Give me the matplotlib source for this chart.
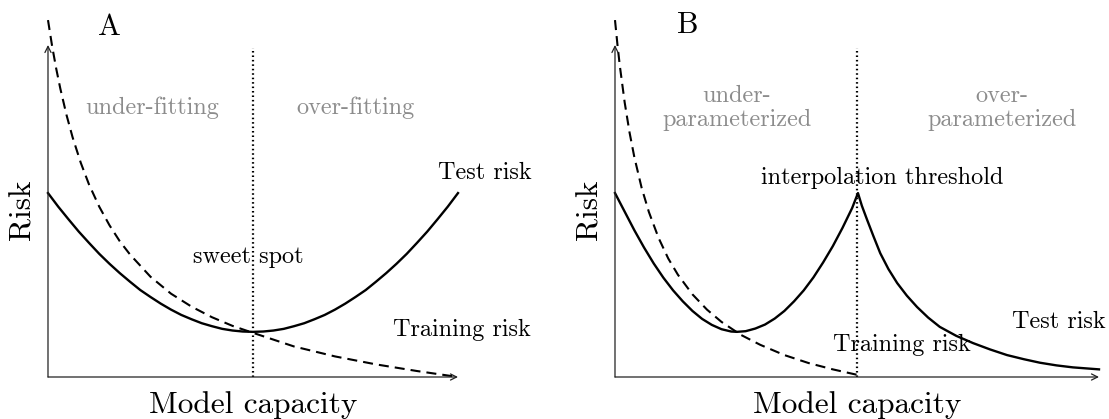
import matplotlib
matplotlib.use("Agg")
import matplotlib.pyplot as plt

# --- curve data (x = capacity, y = risk, both 0..1) ---
test_a_x = [0.0, 0.025, 0.05, 0.075, 0.10, 0.125, 0.15, 0.175, 0.20, 0.225, 0.25,
            0.275, 0.30, 0.325, 0.35, 0.375, 0.40, 0.425, 0.45, 0.475, 0.50,
            0.525, 0.55, 0.575, 0.60, 0.625, 0.65, 0.675, 0.70, 0.725, 0.75,
            0.775, 0.80, 0.825, 0.85, 0.875, 0.90, 0.925, 0.95, 0.975, 1.0]
test_a_y = [0.554, 0.513, 0.475, 0.438, 0.404, 0.371, 0.341, 0.313, 0.287, 0.262, 0.241,
            0.221, 0.203, 0.187, 0.174, 0.162, 0.153, 0.145, 0.140, 0.137, 0.136,
            0.137, 0.140, 0.145, 0.153, 0.162, 0.174, 0.187, 0.203, 0.221, 0.241,
            0.262, 0.287, 0.313, 0.341, 0.371, 0.404, 0.438, 0.475, 0.513, 0.554]

train_a_x = [0.0, 0.01, 0.02, 0.03, 0.045, 0.06, 0.08, 0.10, 0.125, 0.15, 0.175, 0.20,
             0.25, 0.30, 0.35, 0.40, 0.45, 0.50, 0.60, 0.70, 0.80, 0.90, 1.0]
train_a_y = [1.075, 0.997, 0.929, 0.869, 0.790, 0.722, 0.645, 0.580, 0.513, 0.457, 0.409, 0.369,
             0.302, 0.251, 0.212, 0.180, 0.154, 0.133, 0.092, 0.062, 0.038, 0.018, 0.0]

test_b_x = [0.0, 0.02, 0.04, 0.06, 0.08, 0.10, 0.12, 0.14, 0.16, 0.18, 0.20, 0.22, 0.24,
            0.252, 0.27, 0.29, 0.31, 0.33, 0.35, 0.37, 0.39, 0.41, 0.43, 0.45, 0.47, 0.49,
            0.502, 0.510, 0.521, 0.534, 0.548, 0.565, 0.583, 0.603, 0.624, 0.647, 0.671,
            0.705, 0.740, 0.775, 0.810, 0.845, 0.878, 0.912, 0.946, 0.973, 1.0]
test_b_y = [0.554, 0.498, 0.442, 0.390, 0.342, 0.299, 0.261, 0.228, 0.199, 0.175, 0.157, 0.144, 0.137,
            0.136, 0.138, 0.146, 0.158, 0.176, 0.199, 0.228, 0.261, 0.300, 0.345, 0.394, 0.449, 0.509,
            0.554, 0.516, 0.473, 0.424, 0.373, 0.325, 0.283, 0.245, 0.211, 0.179, 0.151,
            0.124, 0.102, 0.083, 0.066, 0.0535, 0.043, 0.035, 0.029, 0.026, 0.023]

train_b_x = [0.0, 0.005, 0.01, 0.02, 0.03, 0.04, 0.055, 0.07, 0.09, 0.11, 0.13, 0.16,
             0.19, 0.22, 0.26, 0.30, 0.35, 0.40, 0.45, 0.502]
train_b_y = [1.075, 1.002, 0.937, 0.827, 0.737, 0.662, 0.570, 0.497, 0.419, 0.357, 0.308, 0.249,
             0.203, 0.166, 0.127, 0.097, 0.066, 0.042, 0.023, 0.006]

threshold_x = 0.5  # sweet spot / interpolation threshold

FONT = "cmr10"
GRAY = "#8c8c8c"
AXIS_COLOR = "#222222"
BODY = 17.5
LABEL = 22.5


def draw_axes(ax):
    # plain arrows instead of spines
    kw = dict(arrowstyle="->", lw=0.9, color=AXIS_COLOR, shrinkA=0, shrinkB=0,
              mutation_scale=11)
    ax.annotate("", xy=(1.0, 0.0), xytext=(0.0, 0.0), arrowprops=kw, annotation_clip=False)
    ax.annotate("", xy=(0.0, 1.0), xytext=(0.0, 0.0), arrowprops=kw, annotation_clip=False)
    ax.plot([threshold_x, threshold_x], [0.0, 0.99], color="black", lw=1.6,
            linestyle=(0, (0.7, 1.3)), clip_on=False)
    ax.set_xlim(0, 1)
    ax.set_ylim(0, 1)
    ax.axis("off")


def curves(ax, tx, ty, rx, ry):
    ax.plot(tx, ty, color="black", lw=1.7, clip_on=False, solid_joinstyle="round")
    ax.plot(rx, ry, color="black", lw=1.5, linestyle=(0, (4.8, 2.9)), clip_on=False)


fig = plt.figure(figsize=(11.09, 4.19), dpi=100)
ax_a = fig.add_axes([0.04328, 0.10024, 0.36970, 0.79236])
ax_b = fig.add_axes([0.55455, 0.10024, 0.43643, 0.79236])

# --- panel A: classical U-shaped risk ---
draw_axes(ax_a)
curves(ax_a, test_a_x, test_a_y, train_a_x, train_a_y)
ax_a.text(0.151, 1.054, "A", fontsize=22, family=FONT, ha="center", va="center")
ax_a.text(-0.061, 0.503, "Risk", fontsize=LABEL, family=FONT, rotation=90, ha="center", va="center")
ax_a.text(0.5, -0.084, "Model capacity", fontsize=LABEL, family=FONT, ha="center", va="center")
ax_a.text(0.254, 0.81, "under-fitting", fontsize=BODY, family=FONT, color=GRAY, ha="center", va="center")
ax_a.text(0.751, 0.81, "over-fitting", fontsize=BODY, family=FONT, color=GRAY, ha="center", va="center")
ax_a.text(0.488, 0.361, "sweet spot", fontsize=BODY, family=FONT, ha="center", va="center")
ax_a.text(1.066, 0.614, "Test risk", fontsize=BODY, family=FONT, ha="center", va="center")
ax_a.text(1.01, 0.142, "Training risk", fontsize=BODY, family=FONT, ha="center", va="center")

# --- panel B: double descent ---
draw_axes(ax_b)
curves(ax_b, test_b_x, test_b_y, train_b_x, train_b_y)
ax_b.text(0.151, 1.06, "B", fontsize=22, family=FONT, ha="center", va="center")
ax_b.text(-0.052, 0.503, "Risk", fontsize=LABEL, family=FONT, rotation=90, ha="center", va="center")
ax_b.text(0.5, -0.084, "Model capacity", fontsize=LABEL, family=FONT, ha="center", va="center")
ax_b.text(0.252, 0.81, "under-\nparameterized", fontsize=BODY, family=FONT, color=GRAY,
          ha="center", va="center", multialignment="center", linespacing=1.15)
ax_b.text(0.8, 0.81, "over-\nparameterized", fontsize=BODY, family=FONT, color=GRAY,
          ha="center", va="center", multialignment="center", linespacing=1.15)
ax_b.text(0.552, 0.599, "interpolation threshold", fontsize=BODY, family=FONT, ha="center", va="center")
ax_b.text(0.592, 0.096, "Training risk", fontsize=BODY, family=FONT, ha="center", va="center")
ax_b.text(0.917, 0.166, "Test risk", fontsize=BODY, family=FONT, ha="center", va="center")

fig.savefig("out.png", dpi=100)
